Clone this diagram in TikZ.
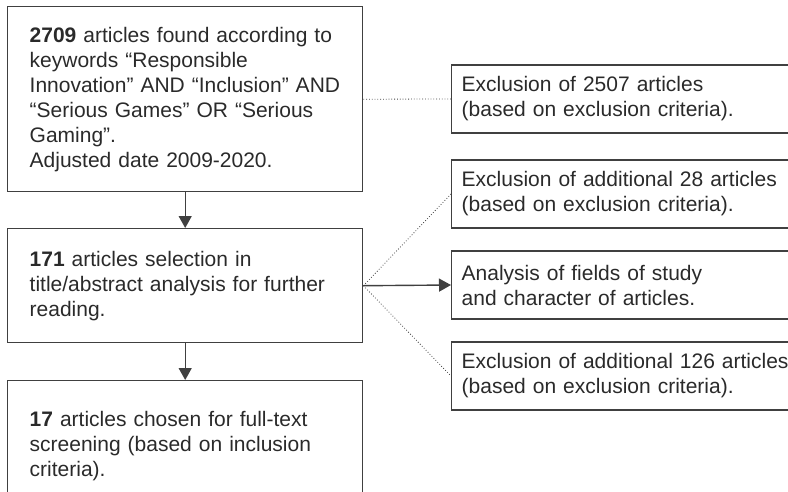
\documentclass[tikz,border=0pt]{standalone}
\usepackage{fontspec}
\setmainfont{Liberation Sans}
\usetikzlibrary{arrows.meta}
\definecolor{linegray}{HTML}{404040}
\definecolor{textgray}{HTML}{2A2A2A}

\begin{document}
\begin{tikzpicture}[
    x=1pt, y=-1pt,
    stagebox/.style={rectangle, draw=linegray, line width=1.4pt, text=textgray, align=left, text width=311pt, inner xsep=22pt, minimum width=355pt, font=\fontsize{21}{25}\selectfont},
    sidebox/.style={rectangle, draw=linegray, line width=1.4pt, text=textgray, align=left, text width=380pt, inner xsep=10pt, minimum width=400pt, minimum height=68pt, anchor=west, font=\fontsize{21}{25}\selectfont},
    arrow/.style={-{Triangle[length=12pt,width=13pt]}, draw=linegray, line width=1.4pt},
    dots/.style={draw=linegray, dotted, line width=0.8pt},
    ]
    \clip (0,0) rectangle (788,491);

    % Main stages
    \node[stagebox, minimum height=185pt, anchor=north west] (found) at (7,6) {\textbf{2709} articles found according to\\keywords “Responsible\\Innovation” AND “Inclusion” AND\\“Serious Games” OR “Serious\\Gaming”.\\Adjusted date 2009-2020.};
    \node[stagebox, minimum height=114pt, anchor=north west] (selection) at (7,228) {\textbf{171} articles selection in\\title/abstract analysis for further\\reading.};
    \node[stagebox, minimum height=130pt, anchor=north west] (chosen) at (7,380) {\textbf{17} articles chosen for full-text\\screening (based on inclusion\\criteria).};

    % Side boxes
    \node[sidebox] (excl1) at (451,99) {Exclusion of 2507 articles\\(based on exclusion criteria).};
    \node[sidebox] (excl2) at (451,194) {Exclusion of additional 28 articles\\(based on exclusion criteria).};
    \node[sidebox] (fields) at (451,285) {Analysis of fields of study\\and character of articles.};
    \node[sidebox] (excl3) at (451,376) {Exclusion of additional 126 articles\\(based on exclusion criteria).};

    % Arrows down
    \draw[arrow] (found) -- (selection);
    \draw[arrow] (selection) -- (chosen);

    % Links to side boxes
    \coordinate (fan) at (selection.east);
    \draw[dots] (found.east) -- (excl1.west);
    \draw[dots] (fan) -- (excl2.west);
    \draw[arrow] (fan) -- (fields.west);
    \draw[dots] (fan) -- (excl3.west);

\end{tikzpicture}
\end{document}
